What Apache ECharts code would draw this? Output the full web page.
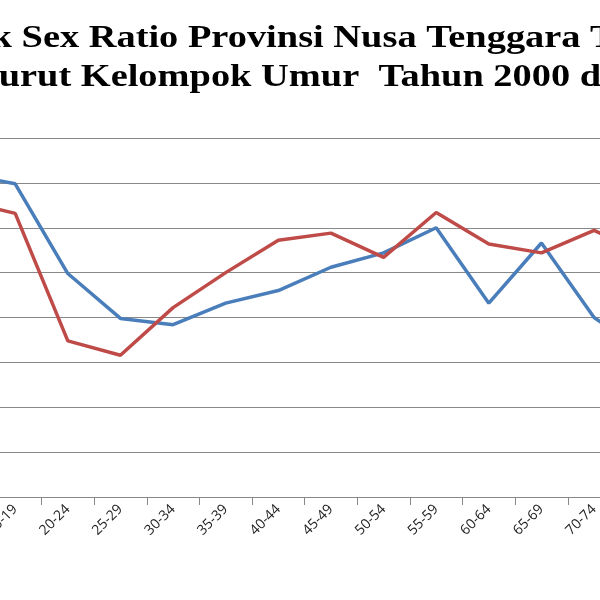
<!DOCTYPE html>
<html>
<head>
<meta charset="UTF-8">
<title>Sex Ratio NTT</title>
<style>
    html, body { margin: 0; padding: 0; background: #fff; overflow: hidden; }
    #chart { position: absolute; left: -200px; top: 0; width: 1000px; height: 600px; }
</style>
</head>
<body>
<div id="chart"></div>
<script src="https://cdn.jsdelivr.net/npm/echarts@6/dist/echarts.min.js"></script>
<script>
    // kelompok umur
    var categories = ['0-4', '5-9', '10-14', '15-19', '20-24', '25-29', '30-34', '35-39', '40-44',
        '45-49', '50-54', '55-59', '60-64', '65-69', '70-74', '75+'];
    // sex ratio tahun 2000 (biru) dan 2010 (merah)
    var ratio2000 = [104, 106, 116, 114.9, 104.9, 99.9, 99.2, 101.6, 103, 105.6, 107.2, 110, 101.6, 108.3, 100, 96];
    var ratio2010 = [103, 105, 113, 111.6, 97.4, 95.8, 101.1, 105, 108.6, 109.4, 106.7, 111.7, 108.2, 107.2, 109.7, 107];

    // the chart box is wider than the window and shifted left by 200px
    var chart = echarts.init(document.getElementById('chart'));
    var option = {
        animation: false,
        color: ['#4a7ebb', '#be4b48'],
        graphic: [
            {
                type: 'text', x: 101, y: 23, scaleX: 1.2,
                style: { text: 'Grafik Sex Ratio Provinsi Nusa Tenggara Timur', font: 'bold 32px "Liberation Serif"', fill: '#000', verticalAlign: 'top' }
            },
            {
                type: 'text', x: 124, y: 62, scaleX: 1.2,
                style: { text: 'Menurut Kelompok Umur  Tahun 2000 dan 2010', font: 'bold 32px "Liberation Serif"', fill: '#000', verticalAlign: 'top' }
            }
        ],
        grid: { left: 31, top: 138, width: 842, height: 359 },
        xAxis: {
            type: 'category',
            data: categories,
            boundaryGap: true,
            axisLine: { lineStyle: { color: '#888', width: 1 } },
            axisTick: { show: true, length: 8, lineStyle: { color: '#888' } },
            axisLabel: { rotate: 45, fontSize: 14, color: '#222', fontFamily: 'Open Sans', margin: 10, interval: 0 }
        },
        yAxis: {
            type: 'value',
            min: 80, max: 120, interval: 5,
            axisLine: { show: false },
            axisTick: { show: false },
            axisLabel: { show: false },
            splitLine: { lineStyle: { color: '#888', width: 1.2 } }
        },
        series: [
            { name: '2000', type: 'line', data: ratio2000, symbol: 'none', lineStyle: { width: 3.5 } },
            { name: '2010', type: 'line', data: ratio2010, symbol: 'none', lineStyle: { width: 3.5 } }
        ]
    };
    chart.setOption(option);
</script>
</body>
</html>
